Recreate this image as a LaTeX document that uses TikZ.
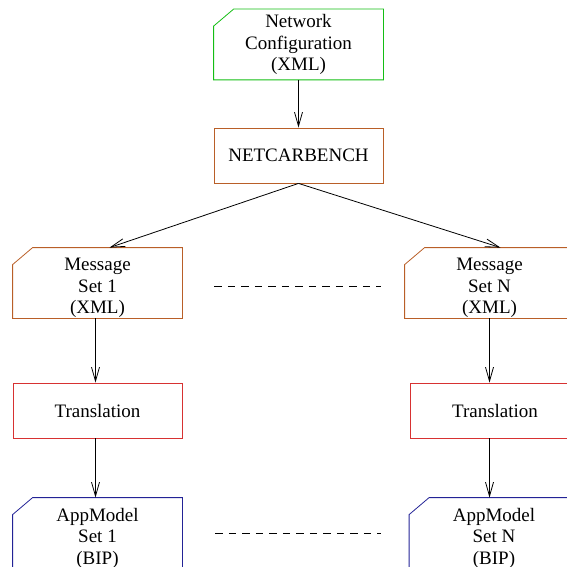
\documentclass[tikz,border=0pt]{standalone}
\usepackage{fontspec}
\setmainfont{Liberation Serif}
\usetikzlibrary{arrows.meta}
\definecolor{cfggreen}{RGB}{20,190,20}
\definecolor{msgbrown}{RGB}{185,95,40}
\definecolor{trred}{RGB}{215,50,50}
\definecolor{appblue}{RGB}{35,35,150}
\begin{document}
\begin{tikzpicture}[x=1pt,y=-1pt,line width=0.8pt]
\tikzstyle{box}=[minimum width=169pt,inner sep=0pt,align=center,font=\fontsize{19}{21.5}\selectfont]
\tikzstyle{doc}=[box,minimum height=70pt]
\tikzstyle{proc}=[box,minimum height=55pt,draw]
\tikzstyle{edge}=[draw,-{Straight Barb[length=14pt,width=8pt]}]
\useasboundingbox (0,0) rectangle (566,567);
    \node[doc] (cfg) at (298.5,44.5) {Network\\Configuration\\(XML)};
    \node[proc,draw=msgbrown] (bench) at (298.5,155.5) {NETCARBENCH};
    \node[doc] (m1) at (97.5,288) {Message\\Set 1\\(XML)};
    \node[doc] (mN) at (489.5,288) {Message\\Set N\\(XML)};
    \node[proc,draw=trred] (t1) at (97.5,410.5) {Translation};
    \node[proc,draw=trred] (tN) at (495,410.5) {Translation};
    \node[doc] (a1) at (97.5,538) {AppModel\\Set 1\\(BIP)};
    \node[doc] (aN) at (494,538) {AppModel\\Set N\\(BIP)};
    % cut-corner outlines of the document boxes (text sits a bit low in some)
    \foreach \n/\c/\d in {cfg/cfggreen/0,m1/msgbrown/5,mN/msgbrown/5,a1/appblue/5,aN/appblue/5}
        \draw[\c] ([yshift=\d pt-17pt]\n.north west) -- ([xshift=20pt,yshift=\d pt]\n.north west)
            -- ([yshift=\d pt]\n.north east) -- ([yshift=\d pt]\n.south east)
            -- ([yshift=\d pt]\n.south west) -- cycle;
    \path (cfg) edge [edge] (bench);
    \path (bench.south) edge [edge] ([xshift=12pt,yshift=5pt]m1.north);
    \path (bench.south) edge [edge] ([xshift=11pt,yshift=5pt]mN.north);
    \path ([xshift=-2pt,yshift=5pt]m1.south) edge [edge] ([xshift=-2pt]m1.south |- t1.north);
    \path ([yshift=5pt]mN.south) edge [edge] (mN.south |- tN.north);
    \path ([xshift=-2pt]t1.south) edge [edge] ([xshift=-2pt,yshift=5pt]a1.north);
    \path (tN.south -| mN.south) edge [edge] ([yshift=5pt]mN.north |- aN.north);
    \draw[dash pattern=on 7.5pt off 6pt] ([xshift=32pt,yshift=2pt]m1.east) -- ([xshift=-24pt,yshift=2pt]mN.west);
    \draw[dash pattern=on 7.5pt off 6pt] ([xshift=33pt,yshift=5pt]a1.east) -- ([xshift=-28.5pt,yshift=5pt]aN.west);
\end{tikzpicture}
\end{document}
